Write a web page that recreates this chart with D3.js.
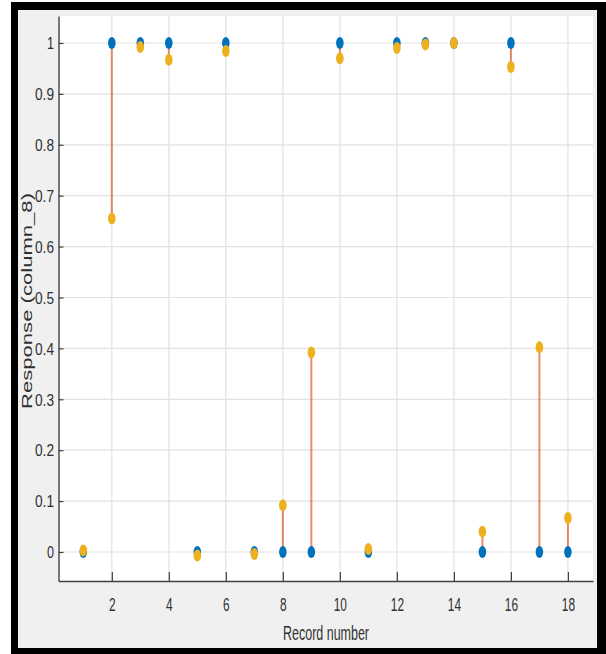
<!DOCTYPE html>
<html>
<head>
<meta charset="utf-8">
<script src="https://cdn.jsdelivr.net/npm/d3@7"></script>
<style>
  body { margin: 0; background: #fff; }
  svg { display: block; font-family: "Liberation Sans", Arial, sans-serif; }
</style>
</head>
<body>
<div id="chart"></div>
<script>
// record number on x, response on y
const records = [1, 2, 3, 4, 5, 6, 7, 8, 9, 10, 11, 12, 13, 14, 15, 16, 17, 18]
const actual = [0, 1, 1, 1, 0, 1, 0, 0, 0, 1, 0, 1, 1, 1, 0, 1, 0, 0]
const predicted = [0.003, 0.655, 0.992, 0.967, -0.007, 0.984, -0.004, 0.092, 0.392,
  0.970, 0.006, 0.990, 0.997, 1.0, 0.040, 0.953, 0.402, 0.067]
const xTicks = [2, 4, 6, 8, 10, 12, 14, 16, 18]
const yTicks = [0, 0.1, 0.2, 0.3, 0.4, 0.5, 0.6, 0.7, 0.8, 0.9, 1]

const width = 606
const height = 654
const plot = { left: 58.5, right: 593, top: 16, bottom: 581 }
const font = '"Liberation Sans", Arial, sans-serif'

const svg = d3.select("#chart")
  .append("svg")
  .attr("width", width)
  .attr("height", height)

// frame round the figure
svg.append("rect").attr("x", 11).attr("y", 2).attr("width", 595).attr("height", 652).attr("fill", "#000")
svg.append("rect").attr("x", 18).attr("y", 10).attr("width", 579).attr("height", 638).attr("fill", "#f0f0f0")
svg.append("rect")
  .attr("x", plot.left).attr("y", plot.top)
  .attr("width", plot.right - plot.left).attr("height", plot.bottom - plot.top)
  .attr("fill", "#fff")

const x = d3.scaleLinear().domain([0.13, 18.88]).range([plot.left, plot.right])
const y = d3.scaleLinear().domain([-0.057, 1.053]).range([plot.bottom, plot.top])

// grid
const grid = svg.append("g").attr("stroke", "#e2e2e2").attr("stroke-width", 1.2)
grid.selectAll(".gx").data(xTicks).enter().append("line")
  .attr("x1", d => x(d)).attr("x2", d => x(d))
  .attr("y1", plot.top).attr("y2", plot.bottom)
grid.selectAll(".gy").data(yTicks).enter().append("line")
  .attr("x1", plot.left).attr("x2", plot.right)
  .attr("y1", d => y(d)).attr("y2", d => y(d))

// axes, ticks pointing inward
const xAxis = svg.append("g")
  .attr("transform", `translate(0,${plot.bottom})`)
  .call(d3.axisBottom(x).tickValues(xTicks).tickSize(-9).tickSizeOuter(0).tickFormat(d3.format("d")))
const yAxis = svg.append("g")
  .attr("transform", `translate(${plot.left},0)`)
  .call(d3.axisLeft(y).tickValues(yTicks).tickSize(-5).tickSizeOuter(0).tickFormat(d => d === 0 || d === 1 ? String(d) : d.toFixed(1)))

for (const ax of [xAxis, yAxis]) {
  ax.attr("font-family", font)
  ax.select(".domain").attr("stroke", "#404040").attr("stroke-width", 1.4)
  ax.selectAll(".tick line").attr("stroke", "#404040").attr("stroke-width", 1.2)
}

xAxis.selectAll(".tick text")
  .attr("fill", "#303030")
  .attr("font-size", 18)
  .attr("y", 0)
  .attr("dy", 0)
  .attr("transform", `translate(0,${611 - plot.bottom})`)
  .attr("textLength", d => String(d).length * 6.6)
  .attr("lengthAdjust", "spacingAndGlyphs")

yAxis.selectAll(".tick text")
  .attr("fill", "#303030")
  .attr("font-size", 16)
  .attr("x", -(plot.left - 54))
  .attr("dy", "0.36em")
  .attr("textLength", d => (d === 0 || d === 1) ? 7 : 19)
  .attr("lengthAdjust", "spacingAndGlyphs")

// axis titles
svg.append("text")
  .attr("x", 326).attr("y", 640)
  .attr("text-anchor", "middle")
  .attr("font-size", 20)
  .attr("fill", "#303030")
  .attr("textLength", 86)
  .attr("lengthAdjust", "spacingAndGlyphs")
  .text("Record number")

svg.append("text")
  .attr("transform", "translate(32,301) rotate(-90)")
  .attr("text-anchor", "middle")
  .attr("font-size", 15)
  .attr("fill", "#303030")
  .attr("textLength", 216)
  .attr("lengthAdjust", "spacingAndGlyphs")
  .text("Response (column_8)")

// error lines between true and predicted response
svg.append("g").selectAll("line")
  .data(records)
  .enter().append("line")
  .attr("x1", d => x(d)).attr("x2", d => x(d))
  .attr("y1", (d, i) => y(actual[i]))
  .attr("y2", (d, i) => y(predicted[i]))
  .attr("stroke", "#D95319")
  .attr("stroke-opacity", 0.65)
  .attr("stroke-width", 2)

// true response
svg.append("g").selectAll("ellipse")
  .data(records)
  .enter().append("ellipse")
  .attr("cx", d => x(d))
  .attr("cy", (d, i) => y(actual[i]))
  .attr("rx", 3.8).attr("ry", 6)
  .attr("fill", "#0072BD")

// predicted response
svg.append("g").selectAll("ellipse")
  .data(records)
  .enter().append("ellipse")
  .attr("cx", d => x(d))
  .attr("cy", (d, i) => y(predicted[i]))
  .attr("rx", 3.8).attr("ry", 6)
  .attr("fill", "#EDB120")
</script>
</body>
</html>
